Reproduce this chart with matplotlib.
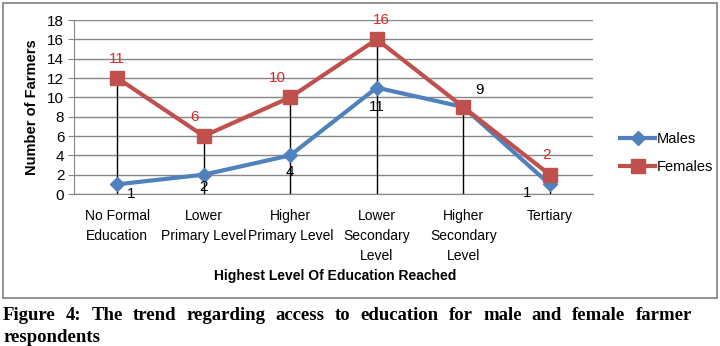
import numpy as np
import matplotlib.pyplot as plt
from matplotlib.patches import Rectangle

plt.rcParams['font.family'] = ['Liberation Sans', 'DejaVu Sans']

categories = ['No Formal\nEducation', 'Lower\nPrimary Level', 'Higher\nPrimary Level',
              'Lower\nSecondary\nLevel', 'Higher\nSecondary\nLevel', 'Tertiary']
males = [1, 2, 4, 11, 9, 1]
females = [12, 6, 10, 16, 9, 2]
male_labels = ['1', '2', '4', '11', '9', '1']
female_labels = ['11', '6', '10', '16', '', '2']
caption = 'Figure 4: The trend regarding access to education for male and female farmer'
caption2 = 'respondents'

# offsets (points) for the data labels
male_off = [(10, -7), (0, -9), (0, -12), (0, -14), (12, 12), (-16, -6)]
female_off = [(0, 14), (-7, 14), (-9, 14), (3, 14), (0, 14), (-2, 14)]

fig = plt.figure(figsize=(7.2, 3.46), dpi=100)
fig.add_artist(Rectangle((3/720, 1-298/346), 714/720, 295/346, transform=fig.transFigure,
                         fill=False, edgecolor='#808080', linewidth=1.2))
ax = fig.add_axes([74/720, 1-194/346, 519/720, 174/346])
x = np.arange(len(categories))

# drop lines
for i in x:
    ax.plot([i, i], [0, max(males[i], females[i])], color='black', linewidth=1, zorder=2)

ax.plot(x, males, color='#4F81BD', linewidth=3, marker='D', markersize=7, label='Males', zorder=3)
ax.plot(x, females, color='#C0504D', linewidth=3, marker='s', markersize=10, label='Females', zorder=4)

for i in x:
    ax.annotate(male_labels[i], (i, males[i]), xytext=male_off[i], textcoords='offset points',
                ha='center', va='center', fontsize=11, color='black')
    if female_labels[i]:
        ax.annotate(female_labels[i], (i, females[i]), xytext=female_off[i], textcoords='offset points',
                    ha='center', va='center', fontsize=11, color='#E0262A')

ax.set_xlim(-0.5, 5.5)
ax.set_ylim(0, 18)
ax.set_yticks(range(0, 19, 2))
ax.set_xticks(x)
ax.set_xticklabels(categories, fontsize=10, linespacing=1.55)
ax.tick_params(axis='x', length=0, pad=11)
ax.tick_params(axis='y', labelsize=11, length=4, color='#868686', pad=3)
ax.grid(True, axis='y', color='#868686', linewidth=1)
ax.set_axisbelow(True)
for s in ['top', 'right']:
    ax.spines[s].set_visible(False)
for s in ['left', 'bottom']:
    ax.spines[s].set_color('#868686')

ax.set_ylabel('Number of Farmers', fontsize=10.5, fontweight='bold', labelpad=6)
fig.text(335/720, 1-276/346, 'Highest Level Of Education Reached', ha='center', va='center',
         fontsize=10, fontweight='bold')

ax.legend(loc='center left', bbox_to_anchor=(607/720, 1-153/346), bbox_transform=fig.transFigure,
          frameon=False, fontsize=10.5, handlelength=2.4, labelspacing=1.0, handletextpad=0.1)

# justified caption, first line
words = caption.split()
cap_font = dict(family=['Liberation Serif'], fontsize=13.5, fontweight='bold', va='center')
x0, x1 = 3/720, 692/720
y1 = 1-316/346
texts = [fig.text(0, y1, w, **cap_font) for w in words]
fig.canvas.draw()
r = fig.canvas.get_renderer()
widths = [t.get_window_extent(r).width / 720 for t in texts]
gap = (x1 - x0 - sum(widths)) / (len(words) - 1)
pos = x0
for t, w in zip(texts, widths):
    t.set_x(pos)
    pos += w + gap
fig.text(x0, 1-337/346, caption2, **cap_font)

fig.savefig('out.png', dpi=100)
